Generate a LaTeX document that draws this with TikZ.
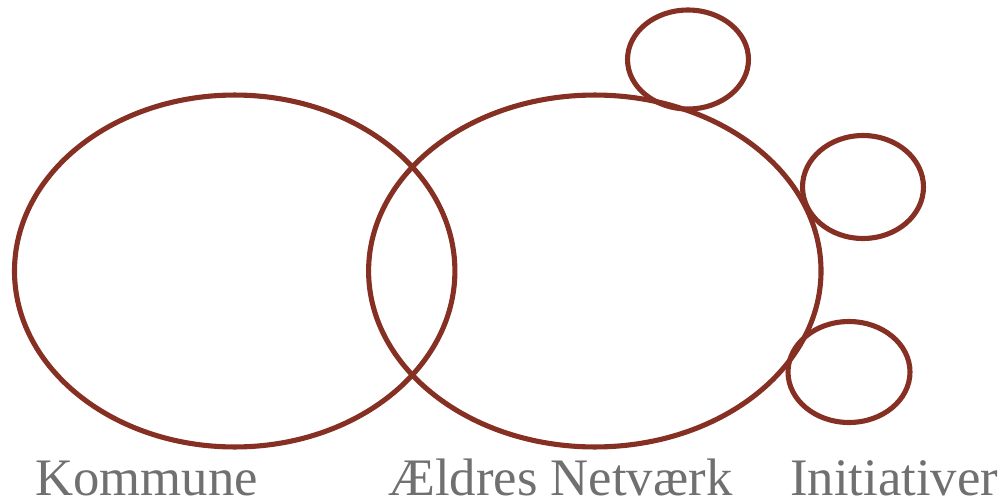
\documentclass[tikz,border=0pt]{standalone}
\usepackage{fontspec}
\setmainfont{Liberation Serif}
\usetikzlibrary{shapes.geometric}
\definecolor{rust}{RGB}{134,48,36}
\definecolor{txtgray}{RGB}{112,112,112}

\begin{document}
\begin{tikzpicture}[x=0.02cm, y=-0.02cm,
  ring/.style={ellipse, draw=rust, line width=2.9pt, inner sep=0pt},
  big/.style={ring, minimum height=7.04cm},
  small/.style={ring, minimum width=2.42cm, minimum height=2.02cm},
  lbl/.style={font=\fontsize{30}{36}\selectfont, text=txtgray, inner sep=0pt,
              text depth=0pt, anchor=base west}]

\useasboundingbox (0,0) rectangle (1003,500);

\node[big, minimum width=8.81cm] (kom) at (234.7,271) {};
\node[big, minimum width=9.05cm] (net) at (594.8,271) {};
\node[small, minimum height=1.98cm] (ini1) at (688,59.5) {};
\node[small, minimum height=2.06cm] (ini2) at (863,187) {};
\node[small, minimum width=2.44cm] (ini3) at (849,372) {};

\node[lbl] (tkom) at (35,495)  {Kommune};
\node[lbl] (tnet) at (388,495) {Ældres Netværk};
\node[lbl] (tini) at (790,495) {Initiativer};
\end{tikzpicture}
\end{document}
